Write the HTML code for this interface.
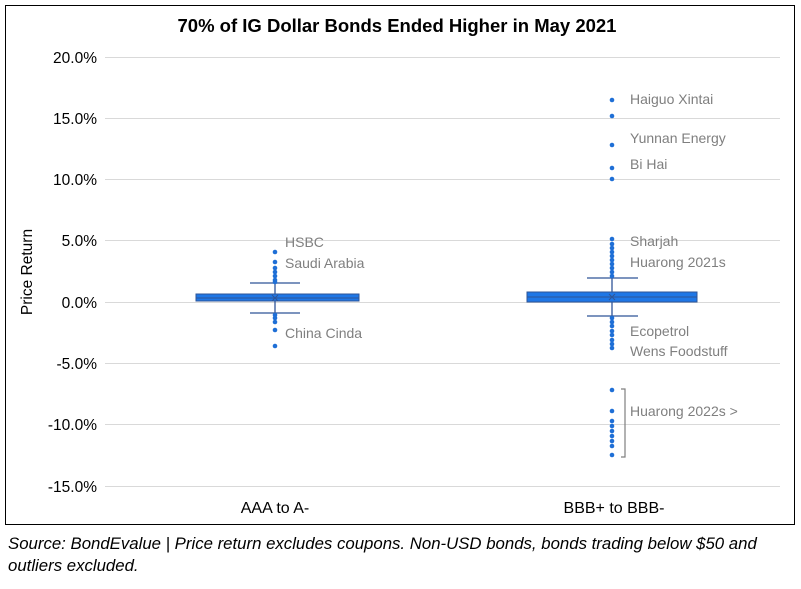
<!DOCTYPE html>
<html><head><style>
body{margin:0;background:#fff;}
svg text{font-family:"Liberation Sans",sans-serif;}
</style></head><body>
<svg width="801" height="584" xmlns="http://www.w3.org/2000/svg">
<rect x="5.5" y="5.5" width="789" height="519" fill="#fff" stroke="#000" stroke-width="1"/>
<text x="397" y="32" text-anchor="middle" font-size="18.5" font-weight="bold">70% of IG Dollar Bonds Ended Higher in May 2021</text>
<g stroke="#d9d9d9" stroke-width="1">
<line x1="105" x2="780" y1="57.5" y2="57.5"/><line x1="105" x2="780" y1="118.5" y2="118.5"/>
<line x1="105" x2="780" y1="179.5" y2="179.5"/><line x1="105" x2="780" y1="240.5" y2="240.5"/>
<line x1="105" x2="780" y1="302.5" y2="302.5"/><line x1="105" x2="780" y1="363.5" y2="363.5"/>
<line x1="105" x2="780" y1="424.5" y2="424.5"/><line x1="105" x2="780" y1="486.5" y2="486.5"/>
</g>
<g font-size="15.5" fill="#000" text-anchor="end">
<text x="97" y="63">20.0%</text><text x="97" y="124">15.0%</text><text x="97" y="185">10.0%</text>
<text x="97" y="246">5.0%</text><text x="97" y="308">0.0%</text><text x="97" y="369">-5.0%</text>
<text x="97" y="430">-10.0%</text><text x="97" y="492">-15.0%</text>
</g>
<text transform="translate(32,272) rotate(-90)" text-anchor="middle" font-size="15.5">Price Return</text>
<g font-size="16" text-anchor="middle"><text x="275" y="513">AAA to A-</text><text x="614" y="513">BBB+ to BBB-</text></g>
<g stroke="#2f5597" stroke-width="1.3" fill="none">
<line x1="275" x2="275" y1="283" y2="313"/><line x1="250" x2="300" y1="283" y2="283"/><line x1="250" x2="300" y1="313" y2="313"/>
<line x1="612" x2="612" y1="278" y2="316"/><line x1="587" x2="638" y1="278" y2="278"/><line x1="587" x2="638" y1="316" y2="316"/>
</g>
<rect x="196" y="294" width="163" height="7" fill="#1f77e6" stroke="#2f5597"/>
<line x1="196" x2="359" y1="298" y2="298" stroke="#2f5597"/>
<rect x="527" y="292" width="170" height="10" fill="#1f77e6" stroke="#2f5597"/>
<line x1="527" x2="697" y1="297" y2="297" stroke="#2f5597"/>
<g stroke="#2f5597" stroke-width="1"><path d="M272 295 L278 301 M278 295 L272 301"/><path d="M609 294 L615 300 M615 294 L609 300"/></g>
<g fill="#1f6fd6">
<circle cx="275" cy="252" r="2.3"/><circle cx="275" cy="262" r="2.3"/><circle cx="275" cy="268" r="2.3"/><circle cx="275" cy="272" r="2.3"/><circle cx="275" cy="276" r="2.3"/><circle cx="275" cy="280" r="2.3"/><circle cx="275" cy="282" r="2.3"/>
<circle cx="275" cy="315" r="2.3"/><circle cx="275" cy="318" r="2.3"/><circle cx="275" cy="322" r="2.3"/><circle cx="275" cy="330" r="2.3"/><circle cx="275" cy="346" r="2.3"/>
<circle cx="612" cy="100" r="2.3"/><circle cx="612" cy="116" r="2.3"/><circle cx="612" cy="145" r="2.3"/><circle cx="612" cy="168" r="2.3"/><circle cx="612" cy="179" r="2.3"/>
<circle cx="612" cy="239" r="2.3"/><circle cx="612" cy="244" r="2.3"/><circle cx="612" cy="248" r="2.3"/><circle cx="612" cy="252" r="2.3"/><circle cx="612" cy="256" r="2.3"/><circle cx="612" cy="260" r="2.3"/><circle cx="612" cy="264" r="2.3"/><circle cx="612" cy="268" r="2.3"/><circle cx="612" cy="272" r="2.3"/><circle cx="612" cy="276" r="2.3"/>
<circle cx="612" cy="318" r="2.3"/><circle cx="612" cy="322" r="2.3"/><circle cx="612" cy="326" r="2.3"/><circle cx="612" cy="331" r="2.3"/><circle cx="612" cy="335" r="2.3"/><circle cx="612" cy="340" r="2.3"/><circle cx="612" cy="344" r="2.3"/><circle cx="612" cy="348" r="2.3"/>
<circle cx="612" cy="390" r="2.3"/><circle cx="612" cy="411" r="2.3"/><circle cx="612" cy="421" r="2.3"/><circle cx="612" cy="426" r="2.3"/><circle cx="612" cy="431" r="2.3"/><circle cx="612" cy="436" r="2.3"/><circle cx="612" cy="441" r="2.3"/><circle cx="612" cy="446" r="2.3"/><circle cx="612" cy="455" r="2.3"/>
</g>
<path d="M621 389 H625 V457 H621" fill="none" stroke="#7f7f7f" stroke-width="1.2"/>
<g font-size="14" fill="#7f7f7f">
<text x="285" y="247">HSBC</text><text x="285" y="268">Saudi Arabia</text><text x="285" y="338">China Cinda</text>
<text x="630" y="104">Haiguo Xintai</text><text x="630" y="143">Yunnan Energy</text><text x="630" y="169">Bi Hai</text>
<text x="630" y="246">Sharjah</text><text x="630" y="267">Huarong 2021s</text>
<text x="630" y="336">Ecopetrol</text><text x="630" y="356">Wens Foodstuff</text>
<text x="630" y="416">Huarong 2022s &gt;</text>
</g>
<g font-size="16.8" font-style="italic"><text x="8" y="549">Source: BondEvalue | Price return excludes coupons. Non-USD bonds, bonds trading below $50 and</text><text x="8" y="571">outliers excluded.</text></g>
</svg>
</body></html>
